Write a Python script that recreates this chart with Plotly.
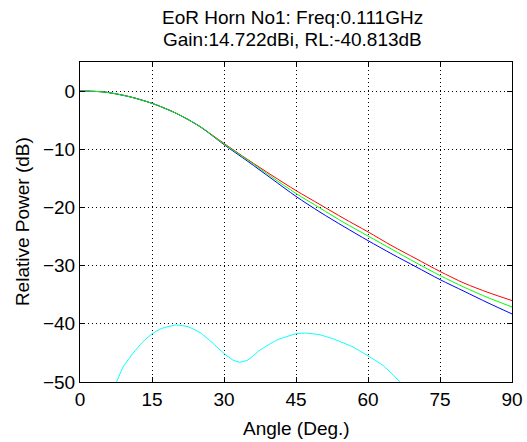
import plotly.graph_objects as go

angles = [0, 5, 10, 15, 20, 25, 30, 35, 40, 45, 50, 55, 60, 65, 70, 75, 80, 85, 90]
red_db = [0, -0.15, -0.9, -2.1, -3.8, -6.1, -9.0, -11.8, -14.5, -17.1, -19.5, -21.9, -24.2, -26.6, -28.8, -31.0, -33.0, -34.6, -36.0]
green_db = [0, -0.15, -0.9, -2.1, -3.8, -6.1, -9.1, -11.9, -14.8, -17.6, -20.1, -22.6, -24.9, -27.2, -29.5, -31.7, -33.7, -35.5, -37.1]
blue_db = [0, -0.15, -0.9, -2.1, -3.8, -6.1, -9.2, -12.1, -15.1, -18.1, -20.8, -23.3, -25.7, -28.0, -30.2, -32.4, -34.4, -36.4, -38.3]

cyan_angles = [7.6, 9.0, 11.1, 13.0, 14.9, 17.0, 20.1, 22.5, 25.0, 27.5, 30.0, 31.8, 33.3, 35.0, 37.5, 41.0, 45.1, 47.2, 50.0, 52.8, 56.9, 60.0, 63.2, 66.7]
cyan_db = [-50.0, -47.4, -45.0, -43.2, -41.8, -40.8, -40.2, -40.5, -41.5, -43.2, -45.1, -46.2, -46.6, -46.2, -44.5, -42.8, -41.7, -41.6, -41.9, -42.6, -44.0, -45.5, -47.2, -50.0]

x_ticks = [0, 15, 30, 45, 60, 75, 90]
y_ticks = [0, -10, -20, -30, -40, -50]

title_lines = ["EoR Horn No1: Freq:0.111GHz", "Gain:14.722dBi, RL:-40.813dB"]
x_title = "Angle (Deg.)"
y_title = "Relative Power (dB)"

FONT = "Liberation Sans, Arial"

fig = go.Figure()
for ys, col in [(red_db, "#ff0000"), (blue_db, "#0000ff"), (green_db, "#00ff00")]:
    fig.add_trace(go.Scatter(x=angles, y=ys, mode="lines", line=dict(color=col, width=1, shape="spline", smoothing=0.8), showlegend=False))
fig.add_trace(go.Scatter(x=cyan_angles, y=cyan_db, mode="lines", line=dict(color="#00ffff", width=1, shape="spline", smoothing=0.5), showlegend=False))

axis_common = dict(
    showline=True, linecolor="black", linewidth=1, mirror="allticks",
    ticks="inside", ticklen=5, tickcolor="black",
    showgrid=True, gridcolor="black", griddash="1px,3px", gridwidth=1,
    zeroline=False, automargin=False,
    tickfont=dict(family=FONT, size=19, color="black"),
)

fig.update_layout(
    width=527, height=442,
    margin=dict(l=80, r=15, t=62, b=60),
    paper_bgcolor="white", plot_bgcolor="white",
    xaxis=dict(range=[0, 90], tickvals=x_ticks, **axis_common),
    yaxis=dict(range=[-50, 5], tickvals=y_ticks, **axis_common),
)

anns = [
    dict(text=title_lines[0], x=0.492, y=1.1406, size=19, angle=0),
    dict(text=title_lines[1], x=0.492, y=1.06875, size=19, angle=0),
    dict(text=x_title, x=0.5, y=-0.144, size=19, angle=0),
    dict(text=y_title, x=-0.134, y=0.5, size=19, angle=-90),
]
for a in anns:
    fig.add_annotation(text=a["text"], x=a["x"], y=a["y"], xref="paper", yref="paper",
                       xanchor="center", yanchor="middle", showarrow=False, textangle=a["angle"],
                       font=dict(family=FONT, size=a["size"], color="black"))

fig.write_html("out.html")
